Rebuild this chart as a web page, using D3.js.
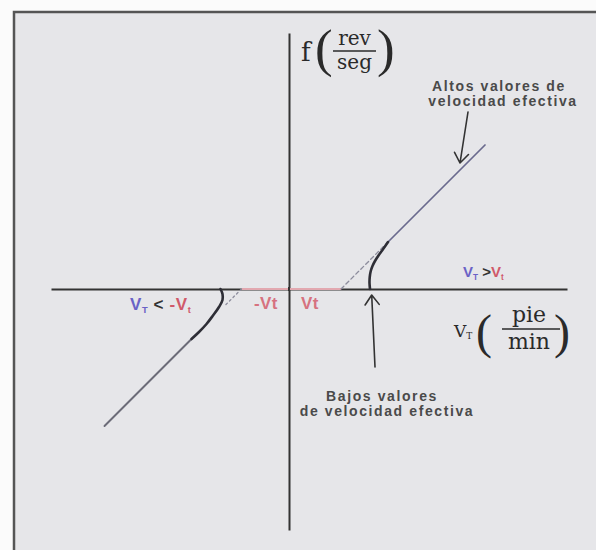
<!DOCTYPE html>
<html>
<head>
<meta charset="utf-8">
<script src="https://cdn.jsdelivr.net/npm/d3@7/dist/d3.min.js"></script>
<style>
  html, body { margin: 0; padding: 0; background: #fbfbfb; }
  svg { display: block; }
</style>
</head>
<body>
<svg id="chart" width="596" height="550"></svg>
<script>
// Turbine meter response: frequency f vs. velocity V_T (units of V_t ~ 1)
const xExtent = [-4.76, 5.56];
const yExtent = [-4.82, 5.12];

// threshold intercepts of the linear asymptotes on the V_T axis
const thresholds = [-0.95, 1.04];

// positive branch: low-velocity bend, then the linear high-velocity part
const rightBend = [[1.62, 0], [1.61, 0.12], [1.615, 0.24], [1.635, 0.36], [1.67, 0.46],
                   [1.72, 0.56], [1.79, 0.67], [1.87, 0.78], [1.98, 0.94]];
const rightLine = [[1.98, 0.94], [3.92, 2.88]];
const rightAsymptote = [[1.04, 0], [1.98, 0.94]];

// negative branch
const leftBend = [[-1.37, 0.0], [-1.33, -0.10], [-1.33, -0.22], [-1.40, -0.36], [-1.52, -0.53],
                  [-1.65, -0.70], [-1.80, -0.86], [-1.95, -1.0]];
const leftLine = [[-1.95, -1.0], [-3.69, -2.74]];
const leftAsymptote = [[-0.95, 0], [-1.30, -0.35]];

// annotation arrows: [tail, tip]
const arrowHigh = [[3.58, 3.54], [3.42, 2.52]];
const arrowLow = [[1.72, -1.56], [1.654, -0.12]];

const highLabel = ["Altos valores de", "velocidad efectiva"];
const lowLabel = ["Bajos valores", "de velocidad efectiva"];

const svg = d3.select("#chart");
const W = 596, H = 550;

// framed panel
svg.append("rect").attr("x", 14).attr("y", 12).attr("width", W - 14).attr("height", H - 12)
  .attr("fill", "#e6e6e9");
svg.append("path").attr("d", `M14,${H} L14,12 L${W},12`)
  .attr("fill", "none").attr("stroke", "#555").attr("stroke-width", 2.5);

const x = d3.scaleLinear().domain(xExtent).range([51, 567]);
const y = d3.scaleLinear().domain(yExtent).range([530, 33]);

// axes through the origin, no ticks
const gx = svg.append("g").attr("transform", `translate(0,${y(0)})`)
  .call(d3.axisBottom(x).tickValues([]).tickSizeOuter(0));
const gy = svg.append("g").attr("transform", `translate(${x(0)},0)`)
  .call(d3.axisLeft(y).tickValues([]).tickSizeOuter(0));
[gx, gy].forEach(g => g.select(".domain").attr("stroke", "#333").attr("stroke-width", 2));

// dead band between -Vt and Vt
svg.append("line")
  .attr("x1", x(thresholds[0])).attr("x2", x(thresholds[1]))
  .attr("y1", y(0)).attr("y2", y(0))
  .attr("stroke", "#e2a8b0").attr("stroke-width", 2.2);
// keep the vertical axis on top of it
svg.append("line").attr("x1", x(0)).attr("x2", x(0)).attr("y1", y(0) - 2).attr("y2", y(0) + 2)
  .attr("stroke", "#333").attr("stroke-width", 2);

const line = d3.line().x(d => x(d[0])).y(d => y(d[1]));
const smooth = d3.line().x(d => x(d[0])).y(d => y(d[1])).curve(d3.curveCatmullRom);

const plot = (data, gen, color, width, dash) => svg.append("path")
  .datum(data).attr("d", gen).attr("fill", "none")
  .attr("stroke", color).attr("stroke-width", width)
  .attr("stroke-linecap", "round")
  .attr("stroke-dasharray", dash || null);

plot(rightAsymptote, line, "#8c8c9c", 1.3, "4,3");
plot(leftAsymptote, line, "#8c8c9c", 1.3, "2,3");
plot(rightLine, line, "#6a6a8e", 1.7);
plot(leftLine, line, "#6c6c78", 1.9);
plot(rightBend, smooth, "#2e2e36", 2.6);
plot(leftBend, smooth, "#2e2e36", 2.6);

// arrows with open heads
function arrow(pts) {
  const [t, h] = pts.map(p => [x(p[0]), y(p[1])]);
  const ang = Math.atan2(h[1] - t[1], h[0] - t[0]);
  const len = 12, spread = Math.PI / 5;
  const a1 = [h[0] - len * Math.cos(ang - spread), h[1] - len * Math.sin(ang - spread)];
  const a2 = [h[0] - len * Math.cos(ang + spread), h[1] - len * Math.sin(ang + spread)];
  svg.append("path")
    .attr("d", `M${t[0]},${t[1]} L${h[0]},${h[1]} M${a1[0]},${a1[1]} L${h[0]},${h[1]} L${a2[0]},${a2[1]}`)
    .attr("fill", "none").attr("stroke", "#333").attr("stroke-width", 1.6)
    .attr("stroke-linecap", "round").attr("stroke-linejoin", "round");
}
arrow(arrowHigh);
arrow(arrowLow);

// annotation text
const sans = "'Liberation Sans', Arial, sans-serif";
function note(lines, cx, top) {
  lines.forEach((s, i) => svg.append("text")
    .attr("x", cx[i]).attr("y", top + i * 15)
    .attr("text-anchor", "middle")
    .attr("font-family", sans).attr("font-size", 14).attr("font-weight", "bold")
    .attr("letter-spacing", 1.6)
    .attr("fill", "#4a4a4a").text(s));
}
note(highLabel, [499, 503], 91);
note(lowLabel, [382, 387], 401);

// velocity labels
function vlabel(parts, xPos, yPos, size, ls) {
  const t = svg.append("text").attr("x", xPos).attr("y", yPos)
    .attr("font-family", sans).attr("font-weight", "bold").attr("font-size", size)
    .attr("letter-spacing", ls);
  parts.forEach(p => {
    const ts = t.append("tspan").attr("fill", p.c).text(p.s);
    if (p.sub) ts.attr("font-size", size * 0.55).attr("dy", 3);
    if (p.up) ts.attr("dy", -3);
  });
  return t;
}
const blue = "#6a62c6", red = "#d0596a", dark = "#333";
vlabel([{s: "V", c: blue}, {s: "T", c: blue, sub: true}, {s: " >", c: dark, up: true},
        {s: "V", c: red}, {s: "t", c: red, sub: true}], 463, 277, 15, 0);
vlabel([{s: "V", c: blue}, {s: "T", c: blue, sub: true}, {s: " <", c: dark, up: true},
        {s: " -V", c: red}, {s: "t", c: red, sub: true}], 130, 310, 17, 0.6);

svg.append("text").attr("x", 254).attr("y", 309)
  .attr("font-family", sans).attr("font-weight", "bold").attr("font-size", 17)
  .attr("letter-spacing", 0.4).attr("fill", "#d6727f").text("-Vt");
svg.append("text").attr("x", 301).attr("y", 309)
  .attr("font-family", sans).attr("font-weight", "bold").attr("font-size", 17)
  .attr("letter-spacing", 0.4).attr("fill", "#d6727f").text("Vt");

// axis titles with fractional units
const serif = "'DejaVu Serif', 'Liberation Serif', serif";
const paren = "'Liberation Serif', 'DejaVu Serif', serif";
function stxt(s, xp, yp, size, anchor, family) {
  return svg.append("text").attr("x", xp).attr("y", yp)
    .attr("font-family", family || serif).attr("font-size", size)
    .attr("text-anchor", anchor || "start").attr("fill", "#2a2a2a").text(s);
}
// f (rev/seg)
stxt("f", 301, 61, 26);
stxt("(", 315, 66, 53, "start", paren);
stxt("rev", 354.5, 44.5, 20, "middle");
svg.append("line").attr("x1", 333).attr("x2", 376).attr("y1", 51).attr("y2", 51)
  .attr("stroke", "#2a2a2a").attr("stroke-width", 1.5);
stxt("seg", 354.5, 69, 20, "middle");
stxt(")", 377, 66, 53, "start", paren);

// V_T (pie/min)
const vt = stxt("V", 454, 337, 17);
vt.append("tspan").attr("font-size", 9).attr("dy", 2).text("T");
stxt("(", 476, 348, 48, "start", paren);
stxt("pie", 529, 322, 22, "middle");
svg.append("line").attr("x1", 502).attr("x2", 560).attr("y1", 329).attr("y2", 329)
  .attr("stroke", "#2a2a2a").attr("stroke-width", 1.5);
stxt("min", 529, 349, 22, "middle");
stxt(")", 554, 348, 48, "start", paren);
</script>
</body>
</html>
